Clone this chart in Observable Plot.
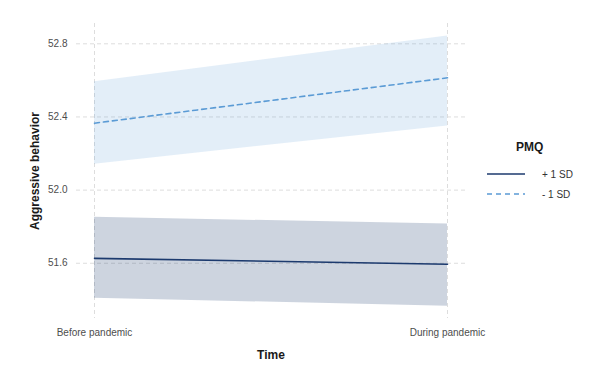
<!DOCTYPE html>
<html>
<head>
<meta charset="utf-8">
<script src="https://cdn.jsdelivr.net/npm/d3@7"></script>
<script src="https://cdn.jsdelivr.net/npm/@observablehq/plot@0.6"></script>
<style>
  html, body { margin: 0; padding: 0; background: #fff; }
  #wrap { position: relative; width: 600px; height: 377px; font-family: "Liberation Sans", Arial, sans-serif; }
  #legend { position: absolute; left: 486px; top: 140px; font-family: "Liberation Sans", Arial, sans-serif; }
  #legend .title { font-weight: bold; font-size: 12px; color: #1a1a1a; margin-left: 30px; margin-bottom: 10px; }
  #legend .row { display: flex; align-items: center; height: 20px; }
  #legend .row span { font-size: 10px; color: #333; margin-left: 16px; }
</style>
</head>
<body>
<div id="wrap"></div>
<script>
// Data
const times = ["Before pandemic", "During pandemic"];
const groups = ["+ 1 SD", "- 1 SD"];
const fitPlus = [51.627, 51.595];
const lowerPlus = [51.409, 51.365];
const upperPlus = [51.851, 51.815];
const fitMinus = [52.366, 52.614];
const lowerMinus = [52.142, 52.351];
const upperMinus = [52.593, 52.842];
const yTicks = [51.6, 52.0, 52.4, 52.8];

const lineColors = { "+ 1 SD": "#1c3a6e", "- 1 SD": "#5b9bd5" };
const fillOpac = { "+ 1 SD": 0.22, "- 1 SD": 0.17 };
const dashes = { "+ 1 SD": null, "- 1 SD": "5,4" };

const rows = [];
times.forEach((t, i) => {
  rows.push({ time: t, group: groups[0], fit: fitPlus[i], lo: lowerPlus[i], hi: upperPlus[i] });
  rows.push({ time: t, group: groups[1], fit: fitMinus[i], lo: lowerMinus[i], hi: upperMinus[i] });
});

const marks = [
  Plot.gridY(yTicks, { stroke: "#dddddd", strokeOpacity: 1, strokeDasharray: "4,3" }),
  Plot.gridX(times, { stroke: "#dddddd", strokeOpacity: 1, strokeDasharray: "4,3" })
];
for (const g of groups) {
  const d = rows.filter(r => r.group === g);
  marks.push(Plot.areaY(d, { x: "time", y1: "lo", y2: "hi", fill: lineColors[g], fillOpacity: fillOpac[g] }));
}
for (const g of [...groups].reverse()) {
  const d = rows.filter(r => r.group === g);
  marks.push(Plot.line(d, { x: "time", y: "fit", stroke: lineColors[g], strokeWidth: 1.6, strokeDasharray: dashes[g] }));
}
marks.push(
  Plot.axisY({ ticks: yTicks, tickSize: 0, tickPadding: 9, tickFormat: d3.format(".1f"),
    label: "Aggressive behavior", labelAnchor: "center", labelOffset: 46, labelArrow: "none",
    fontSize: 10, color: "#4d4d4d" }),
  Plot.axisX({ tickSize: 0, tickPadding: 10, label: "Time", labelAnchor: "center", labelOffset: 40, labelArrow: "none",
    fontSize: 10, color: "#4d4d4d" })
);

const chart = Plot.plot({
  width: 600,
  height: 377,
  marginLeft: 76,
  marginRight: 135,
  marginTop: 23,
  marginBottom: 59,
  style: { fontFamily: "Liberation Sans, Arial, sans-serif", background: "#fff" },
  x: { type: "point", domain: times, padding: 0.05 },
  y: { domain: [51.298, 52.911] },
  marks
});

// style axis titles bold/dark
chart.querySelectorAll("g[aria-label='y-axis label'], g[aria-label='x-axis label']").forEach(g => {
  g.setAttribute("font-weight", "bold");
  g.setAttribute("font-size", "12");
  g.setAttribute("fill", "#1a1a1a");
});

const wrap = document.getElementById("wrap");
wrap.appendChild(chart);

// legend
const legend = document.createElement("div");
legend.id = "legend";
let html = `<div class="title">PMQ</div>`;
for (const g of groups) {
  html += `<div class="row"><svg width="40" height="6"><line x1="1" x2="39" y1="3" y2="3" stroke="${lineColors[g]}" stroke-width="1.6" ${dashes[g] ? `stroke-dasharray="${dashes[g]}"` : ""}/></svg><span>${g}</span></div>`;
}
legend.innerHTML = html;
wrap.appendChild(legend);
</script>
</body>
</html>
